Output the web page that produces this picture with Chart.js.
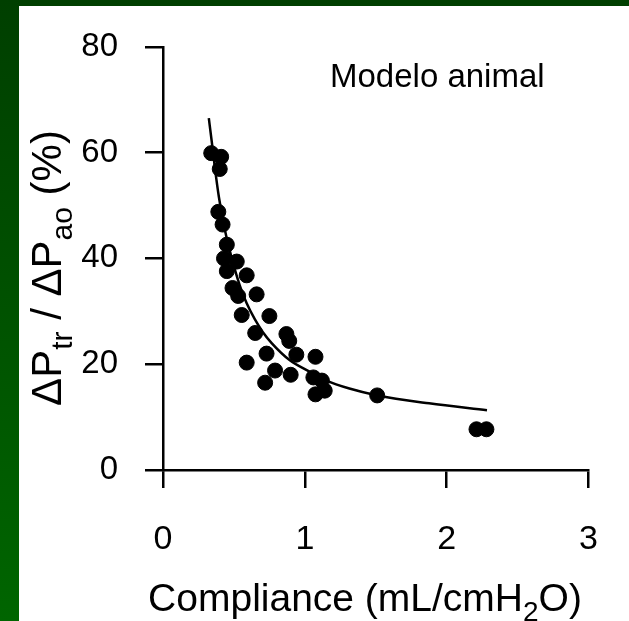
<!DOCTYPE html>
<html>
<head>
<meta charset="utf-8">
<script src="https://cdn.jsdelivr.net/npm/chart.js@4/dist/chart.umd.min.js"></script>
<style>
html, body { margin: 0; padding: 0; }
body { width: 629px; height: 621px; position: relative; overflow: hidden; background: linear-gradient(#003f00, #006500); }
#panel { position: absolute; left: 19px; top: 6px; right: 0; bottom: 0; background: #fff; }
#wrap { position: absolute; left: 0; top: 0; width: 629px; height: 621px; }
</style>
</head>
<body>
<div id="panel"></div>
<div id="wrap"><canvas id="myChart" width="629" height="621"></canvas></div>
<script>
// measured dots (compliance, mL/cmH2O  vs  dPtr/dPao, %)
let complianceDots = [0.34, 0.41, 0.40, 0.39, 0.42, 0.45, 0.43, 0.52, 0.45, 0.59, 0.49, 0.66, 0.53,
  0.555, 0.75, 0.65, 0.87, 0.89, 0.73, 0.94, 0.59, 1.075, 0.79, 0.90, 0.72, 1.06, 1.12, 1.14, 1.075,
  1.51, 2.21, 2.28];
let ratioDots = [59.9, 59.2, 56.9, 48.8, 46.4, 42.6, 40.0, 39.4, 37.6, 36.8, 34.4, 33.2, 32.9,
  29.3, 29.1, 25.9, 25.7, 24.4, 22.0, 21.8, 20.3, 21.4, 18.8, 18.0, 16.5, 17.5, 16.9, 15.0, 14.3,
  14.1, 7.7, 7.7];

// fitted curve
let complianceCurve = [0.323, 0.344, 0.365, 0.394, 0.436, 0.485, 0.541, 0.590, 0.647, 0.703, 0.766,
  0.892, 1.033, 1.152, 1.314, 1.511, 1.876, 2.284];
let ratioCurve = [66.5, 62.0, 57.3, 51.6, 45.4, 40.0, 34.9, 31.5, 28.5, 26.1, 24.0,
  20.8, 18.6, 16.9, 15.4, 14.1, 12.6, 11.3];

let xTicks = [0, 1, 2, 3];
let yTicks = [0, 20, 40, 60, 80];

const FONT = "'Liberation Sans', Arial, sans-serif";

const dots = complianceDots.map((c, i) => ({ x: c, y: ratioDots[i] }));
const curve = complianceCurve.map((c, i) => ({ x: c, y: ratioCurve[i] }));

// draws text made of [text, isSubscript] pieces
function drawPieces(ctx, pieces, x, y, size, subSize, subDrop) {
  let cx = x;
  pieces.forEach(p => {
    ctx.font = (p[1] ? subSize : size) + 'px ' + FONT;
    ctx.fillText(p[0], cx, p[1] ? y + subDrop : y);
    cx += ctx.measureText(p[0]).width;
  });
  return cx - x;
}
function piecesWidth(ctx, pieces, size, subSize) {
  let w = 0;
  pieces.forEach(p => {
    ctx.font = (p[1] ? subSize : size) + 'px ' + FONT;
    w += ctx.measureText(p[0]).width;
  });
  return w;
}

const titles = {
  id: 'titles',
  afterDraw(chart) {
    const ctx = chart.ctx;
    ctx.save();
    ctx.fillStyle = '#000';
    ctx.textBaseline = 'alphabetic';
    ctx.textAlign = 'left';

    ctx.font = '33px ' + FONT;
    ctx.fillText('Modelo animal', 330, 87);

    const xt = [['Compliance (mL/cmH', false], ['2', true], ['O)', false]];
    const xw = piecesWidth(ctx, xt, 39, 28);
    drawPieces(ctx, xt, 365 - xw / 2, 611, 39, 28, 10);

    const yt = [['\u0394P', false], ['tr', true], [' / \u0394P', false], ['ao', true], [' (%)', false]];
    const yw = piecesWidth(ctx, yt, 42, 30);
    ctx.translate(61, 268 + yw / 2);
    ctx.rotate(-Math.PI / 2);
    drawPieces(ctx, yt, 0, 0, 42, 30, 11);
    ctx.restore();
  }
};

const chartElement = document.getElementById('myChart').getContext('2d');

const myChart = new Chart(chartElement, {
  type: 'scatter',
  data: {
    datasets: [
      {
        data: dots,
        backgroundColor: '#000',
        borderColor: '#000',
        pointRadius: 7.5,
        pointHoverRadius: 7.5,
        order: 0
      },
      {
        type: 'line',
        data: curve,
        borderColor: '#000',
        borderWidth: 2.5,
        pointRadius: 0,
        fill: false,
        cubicInterpolationMode: 'monotone',
        order: 1
      }
    ]
  },
  options: {
    responsive: false,
    animation: false,
    devicePixelRatio: 1,
    layout: { padding: { left: 0, top: 42, right: 37, bottom: 0 } },
    plugins: { legend: { display: false }, tooltip: { enabled: false } },
    scales: {
      x: {
        type: 'linear',
        min: 0,
        max: 3,
        afterBuildTicks: s => { s.ticks = xTicks.map(v => ({ value: v })); },
        ticks: { color: '#000', font: { size: 34, family: FONT }, padding: 31, maxRotation: 0 },
        grid: { drawOnChartArea: false, color: '#000', lineWidth: 2.5, tickLength: 18 },
        border: { color: '#000', width: 2.5 },
        afterFit: s => { s.height = 151; }
      },
      y: {
        type: 'linear',
        min: 0,
        max: 80,
        afterBuildTicks: s => { s.ticks = yTicks.map(v => ({ value: v })); },
        ticks: { color: '#000', font: { size: 33, family: FONT }, padding: 27 },
        grid: { drawOnChartArea: false, color: '#000', lineWidth: 2.5, tickLength: 18 },
        border: { color: '#000', width: 2.5 },
        afterFit: s => { s.width = 163; }
      }
    }
  },
  plugins: [titles]
});
</script>
</body>
</html>
